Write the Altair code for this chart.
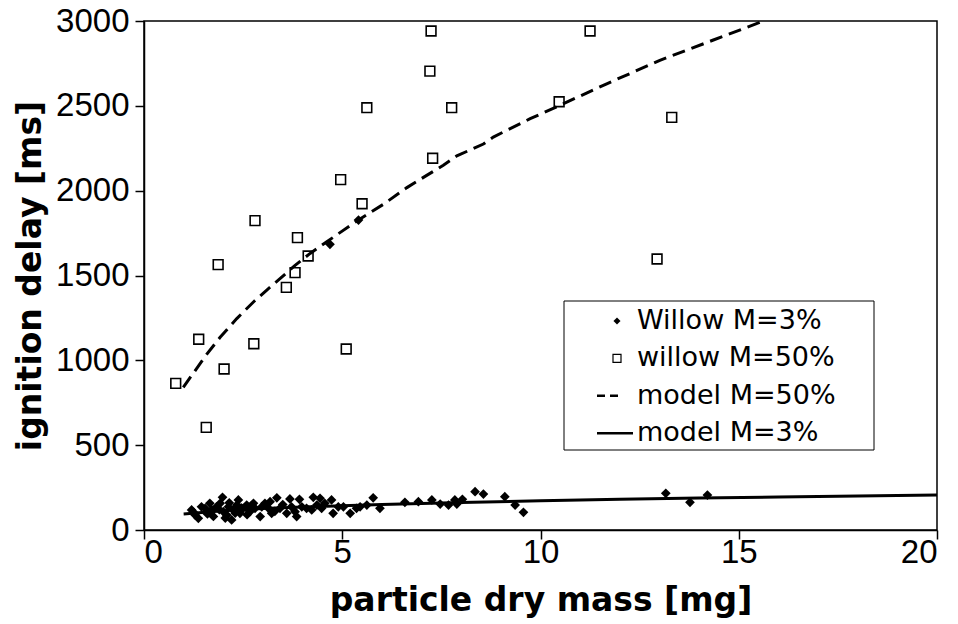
import altair as alt
import pandas as pd

# Willow M=3% (filled diamonds)
w3_x = [1.20, 1.37, 1.29, 1.45, 1.54, 1.66, 1.71, 1.83, 1.98, 1.92, 2.00, 2.09, 2.13, 2.21, 2.25,
        2.34, 2.38, 2.42, 2.50, 2.59, 2.67, 2.76, 2.80, 2.93, 2.97, 3.05, 3.14, 3.18, 3.22, 3.35,
        3.43, 3.60, 3.68, 3.72, 3.81, 3.85, 3.92, 3.98, 4.10, 4.23, 4.27, 4.36, 4.44, 4.48, 4.56,
        4.73, 4.77, 4.90, 5.03, 5.20, 5.36, 5.45, 5.62, 5.78, 5.95, 6.58, 6.92, 7.26, 7.47, 7.68,
        7.84, 7.89, 8.03, 8.35, 8.56, 9.10, 9.36, 9.57, 13.16, 13.77, 14.21,
        1.25, 1.60, 1.75, 2.05, 2.30, 2.60, 2.45, 1.90, 2.15, 2.70, 3.30, 3.50,
        4.69, 5.41]
w3_y = [118, 69, 88, 137, 128, 157, 118, 137, 193, 157, 108, 88, 137, 59, 118,
        147, 177, 98, 128, 147, 108, 157, 128, 79, 137, 157, 128, 167, 98, 190,
        128, 98, 183, 137, 108, 79, 181, 137, 128, 118, 193, 147, 187, 128, 157,
        177, 98, 137, 137, 98, 128, 137, 147, 190, 128, 163, 167, 177, 153, 147,
        177, 153, 181, 226, 212, 196, 147, 104, 216, 163, 206,
        105, 95, 80, 70, 100, 90, 130, 120, 160, 140, 110, 150,
        1684, 1827]

# willow M=50% (open squares)
w50_x = [7.24, 7.21, 5.62, 7.76, 7.28, 4.96, 5.50, 2.80, 3.87, 11.25, 10.47, 13.31,
         1.87, 4.14, 3.81, 3.59, 1.38, 2.77, 2.02, 0.80, 1.57, 5.10, 12.94]
w50_y = [2941, 2705, 2489, 2489, 2191, 2065, 1923, 1823, 1723, 2941, 2524, 2432,
         1564, 1615, 1517, 1430, 1124, 1098, 949, 864, 605, 1067, 1597]

# model M=50% (dashed)
m50_x = [0.99, 1.58, 1.92, 2.34, 2.76, 3.09, 3.43, 3.81, 4.19, 4.61, 5.36, 6.04, 6.63,
         7.13, 7.55, 7.89, 8.56, 8.81, 9.74, 10.49, 11.67, 13.01, 14.36, 15.58]
m50_y = [841, 1035, 1136, 1246, 1344, 1413, 1481, 1560, 1630, 1699, 1820, 1920, 2018,
         2090, 2150, 2205, 2275, 2316, 2424, 2503, 2630, 2768, 2888, 2996]

# model M=3% (solid)
m3_x = [1.0, 2.0, 3.0, 4.0, 6.0, 8.0, 10.0, 12.0, 14.0, 16.0, 18.0, 20.0]
m3_y = [95, 113, 126, 136, 150, 162, 172, 181, 188, 195, 201, 206]

legend_labels = ["Willow M=3%", "willow M=50%", "model M=50%", "model M=3%"]

FONT = "Liberation Sans"
TFONT = "DejaVu Sans"

df3 = pd.DataFrame({"x": w3_x, "y": w3_y})
df50 = pd.DataFrame({"x": w50_x, "y": w50_y})
dm50 = pd.DataFrame({"x": m50_x, "y": m50_y})
dm3 = pd.DataFrame({"x": m3_x, "y": m3_y})

xenc = alt.X("x:Q", scale=alt.Scale(domain=[0, 20], nice=False),
             axis=alt.Axis(values=[0, 5, 10, 15, 20], title="particle dry mass [mg]",
                           titleX=396.5, titleY=70, titleBaseline="middle",
                           labelPadding=-3))
yenc = alt.Y("y:Q", scale=alt.Scale(domain=[0, 3000], nice=False),
             axis=alt.Axis(values=[0, 500, 1000, 1500, 2000, 2500, 3000], format="d",
                           title="ignition delay [ms]", labelPadding=6,
                           titleX=-114, titleY=254.5, titleAngle=270,
                           titleBaseline="middle", titleAlign="center"))

pts3 = alt.Chart(df3).mark_point(shape="diamond", filled=True, color="black",
                                 size=95, opacity=1).encode(x=xenc, y=yenc)
pts50 = alt.Chart(df50).mark_point(shape="square", filled=False, color="black",
                                   size=95, strokeWidth=1.6, opacity=1).encode(x="x:Q", y="y:Q")
line50 = alt.Chart(dm50).mark_line(color="black", strokeWidth=3,
                                   strokeDash=[13, 7]).encode(x="x:Q", y="y:Q", order="x:Q")
line3 = alt.Chart(dm3).mark_line(color="black", strokeWidth=3).encode(
    x="x:Q", y="y:Q", order="x:Q")

one = pd.DataFrame({"a": [0]})
box = alt.Chart(one).mark_rect(fill="white", stroke="black", strokeWidth=1).encode(
    x=alt.value(420), x2=alt.value(730), y=alt.value(280), y2=alt.value(429))

row0 = 300
step = 37.4
sym_x = 473
text_x = 493
layers = [pts3, pts50, line50, line3, box]
layers.append(alt.Chart(one).mark_point(shape="diamond", filled=True, color="black",
                                        size=50, opacity=1).encode(
    x=alt.value(sym_x), y=alt.value(row0)))
layers.append(alt.Chart(one).mark_point(shape="square", filled=False, color="black",
                                        size=64, strokeWidth=1.2, opacity=1).encode(
    x=alt.value(sym_x), y=alt.value(row0 + step)))
layers.append(alt.Chart(one).mark_rule(color="black", strokeWidth=2.5,
                                       strokeDash=[8, 5]).encode(
    x=alt.value(453), x2=alt.value(474), y=alt.value(row0 + 2 * step)))
layers.append(alt.Chart(one).mark_rule(color="black", strokeWidth=2.5).encode(
    x=alt.value(453), x2=alt.value(489), y=alt.value(row0 + 3 * step)))
for i, lab in enumerate(legend_labels):
    layers.append(alt.Chart(one).mark_text(align="left", baseline="middle", font=TFONT,
                                           fontSize=27, color="black").encode(
        x=alt.value(text_x), y=alt.value(row0 + i * step), text=alt.value(lab)))

chart = alt.layer(*layers).properties(
    width=793, height=509,
    autosize=alt.AutoSizeParams(type="none"),
    padding={"left": 136, "top": 13, "right": 7, "bottom": 94},
).configure_view(stroke="black", strokeWidth=1.5).configure_axis(
    grid=False, domainColor="black", domainWidth=1.5, tickColor="black", tickWidth=1.5,
    tickSize=9, labelFont=FONT, labelFontSize=33, labelColor="black",
    titleFont=TFONT, titleFontSize=33, titleFontWeight="bold", titleColor="black",
)

chart.save("out.html", embed_options={"renderer": "svg", "actions": False})
